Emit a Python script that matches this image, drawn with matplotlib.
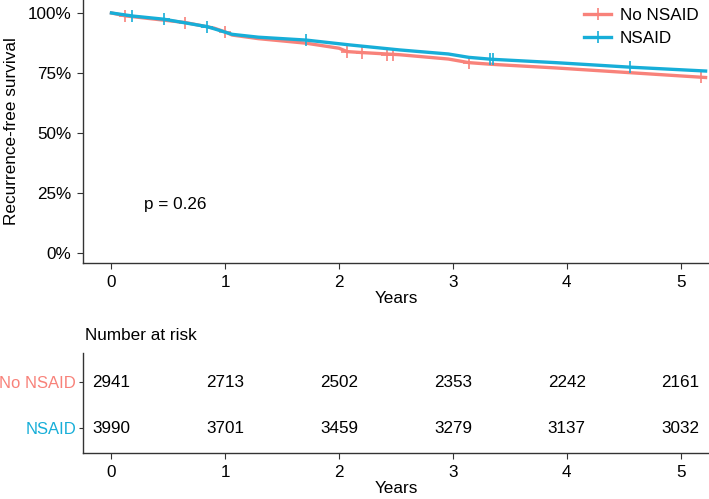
import matplotlib
matplotlib.use("Agg")
import matplotlib.pyplot as plt
from matplotlib.lines import Line2D

plt.rcParams['font.family'] = ['Liberation Sans', 'DejaVu Sans']
plt.rcParams['font.size'] = 12.3

red = "#F8827A"
blue = "#17AED8"

# curve readings (years, survival)
t_no = [0, 0.12, 0.65, 0.9, 1.0, 1.06, 1.29, 1.71, 2.0, 2.07, 2.2, 2.53, 2.96, 3.14, 3.34, 3.9, 4.56, 5.22]
s_no = [1.0, 0.988, 0.96, 0.937, 0.921, 0.908, 0.893, 0.874, 0.853, 0.839, 0.835, 0.826, 0.808, 0.793, 0.786, 0.771, 0.751, 0.731]
t_ns = [0, 0.19, 0.46, 0.62, 0.84, 0.91, 1.06, 1.29, 1.71, 2.09, 2.53, 2.96, 3.14, 3.34, 3.9, 4.56, 5.22]
s_ns = [1.0, 0.987, 0.974, 0.961, 0.943, 0.933, 0.911, 0.899, 0.887, 0.867, 0.846, 0.829, 0.815, 0.807, 0.793, 0.774, 0.758]

# censor marks
ct_no = [0.12, 0.65, 1.0, 2.07, 2.2, 2.42, 2.47, 3.14, 5.18]
cs_no = [0.988, 0.96, 0.921, 0.839, 0.835, 0.826, 0.825, 0.793, 0.732]
ct_ns = [0.18, 0.46, 0.84, 1.71, 3.33, 3.35, 4.56]
cs_ns = [0.987, 0.974, 0.943, 0.887, 0.807, 0.807, 0.774]

# number at risk
years = [0, 1, 2, 3, 4, 5]
risk_no = [2941, 2713, 2502, 2353, 2242, 2161]
risk_ns = [3990, 3701, 3459, 3279, 3137, 3032]
groups = ["No NSAID", "NSAID"]

W, H = 709, 499
fig = plt.figure(figsize=(W / 100, H / 100), dpi=100)

def style(ax):
    for s in ["top", "right"]:
        ax.spines[s].set_visible(False)
    for s in ["left", "bottom"]:
        ax.spines[s].set_color("#333333")
        ax.spines[s].set_linewidth(1.0)
    ax.tick_params(length=4, width=0.8, pad=4.5, color="#333333", labelcolor="black")

# survival plot
ax = fig.add_axes([83 / W, 1 - 263 / H, 1 - 83 / W, 263 / H])
style(ax)
ax.plot(t_no, s_no, color=red, lw=2.4)
ax.plot(ct_no, cs_no, "+", color=red, ms=8, mew=1.2)
ax.plot(t_ns, s_ns, color=blue, lw=2.4)
ax.plot(ct_ns, cs_ns, "+", color=blue, ms=8, mew=1.2)
ax.set_xlim(-0.25, 5.25)
ax.set_ylim(-0.042, 1.054)
ax.set_xticks(years)
ax.set_yticks([0, 0.25, 0.5, 0.75, 1.0])
ax.set_yticklabels(["0%", "25%", "50%", "75%", "100%"])
ax.set_xlabel("Years", labelpad=1)
ax.set_ylabel("Recurrence-free survival", labelpad=6)
ax.text(0.29, 0.20, "p = 0.26", va="center", ha="left")
handles = [Line2D([], [], color=red, lw=2.4, marker="+", ms=8, mew=1.2),
           Line2D([], [], color=blue, lw=2.4, marker="+", ms=8, mew=1.2)]
ax.legend(handles, groups, loc="upper right", bbox_to_anchor=(1.0, 1.01), frameon=False,
          handlelength=1.6, handletextpad=0.5, labelspacing=0.5, borderaxespad=0.2)

# risk table
fig.text(85 / W, 1 - 335 / H, "Number at risk", va="center", ha="left")
ax2 = fig.add_axes([83 / W, 1 - 453 / H, 1 - 83 / W, 100 / H])
style(ax2)
ax2.tick_params(axis="y", length=3, pad=2, labelsize=12)
ax2.set_xlim(-0.25, 5.25)
ax2.set_ylim(-0.54, 1.63)
ax2.set_xticks(years)
ax2.set_yticks([1, 0])
ax2.set_yticklabels(groups)
for lab, c in zip(ax2.get_yticklabels(), [red, blue]):
    lab.set_color(c)
for x, a, b in zip(years, risk_no, risk_ns):
    ax2.text(x, 1, str(a), ha="center", va="center")
    ax2.text(x, 0, str(b), ha="center", va="center")
ax2.set_xlabel("Years", labelpad=1)

fig.savefig("out.png", dpi=100)
